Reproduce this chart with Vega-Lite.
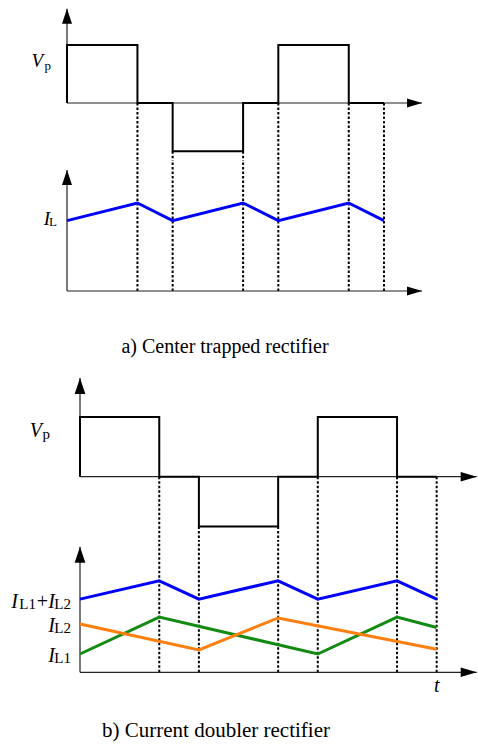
{
  "$schema": "https://vega.github.io/schema/vega-lite/v6.json",
  "padding": 0,
  "background": "white",
  "spacing": 0,
  "bounds": "flush",
  "config": {
    "view": {"stroke": null},
    "axis": {"disable": true},
    "legend": {"disable": true},
    "text": {"font": "Liberation Serif", "color": "black"},
    "title": {"font": "Liberation Serif", "fontWeight": "normal", "color": "black"},
    "style": {"group-title": {"font": "Liberation Serif", "fontWeight": "normal"}}
  },
  "datasets": {
    "vp": [
      {"seq": 0, "t": 0, "v": 0}, {"seq": 1, "t": 0, "v": 1.2}, {"seq": 2, "t": 2, "v": 1.2},
      {"seq": 3, "t": 2, "v": 0}, {"seq": 4, "t": 3, "v": 0}, {"seq": 5, "t": 3, "v": -1},
      {"seq": 6, "t": 5, "v": -1}, {"seq": 7, "t": 5, "v": 0}, {"seq": 8, "t": 6, "v": 0},
      {"seq": 9, "t": 6, "v": 1.2}, {"seq": 10, "t": 8, "v": 1.2}, {"seq": 11, "t": 8, "v": 0},
      {"seq": 12, "t": 9, "v": 0}
    ],
    "switching": [
      {"t": 2, "v": 0}, {"t": 3, "v": -1}, {"t": 5, "v": -1},
      {"t": 6, "v": 0}, {"t": 8, "v": 0}, {"t": 9, "v": 0}
    ],
    "il_center": [
      {"t": 0, "v": 4}, {"t": 2, "v": 5}, {"t": 3, "v": 4}, {"t": 5, "v": 5},
      {"t": 6, "v": 4}, {"t": 8, "v": 5}, {"t": 9, "v": 4}
    ],
    "il_doubler": [
      {"series": "IL1+IL2", "t": 0, "v": 4}, {"series": "IL1+IL2", "t": 2, "v": 5},
      {"series": "IL1+IL2", "t": 3, "v": 4}, {"series": "IL1+IL2", "t": 5, "v": 5},
      {"series": "IL1+IL2", "t": 6, "v": 4}, {"series": "IL1+IL2", "t": 8, "v": 5},
      {"series": "IL1+IL2", "t": 9, "v": 4},
      {"series": "IL1", "t": 0, "v": 1.0}, {"series": "IL1", "t": 2, "v": 3.02},
      {"series": "IL1", "t": 6, "v": 1.0}, {"series": "IL1", "t": 8, "v": 3.02},
      {"series": "IL1", "t": 9, "v": 2.45},
      {"series": "IL2", "t": 0, "v": 2.64}, {"series": "IL2", "t": 3, "v": 1.22},
      {"series": "IL2", "t": 5, "v": 2.97}, {"series": "IL2", "t": 9, "v": 1.26}
    ],
    "doubler_labels": [
      {"t": 0, "v": 4, "main": "I", "sub": "L2"},
      {"t": 0, "v": 2.64, "main": "I", "sub": "L2"},
      {"t": 0, "v": 1.0, "main": "I", "sub": "L1"}
    ]
  },
  "vconcat": [
    {
      "width": 478,
      "height": 160,
      "layer": [
        {
          "data": {"name": "switching"},
          "mark": {"type": "rule", "strokeDash": [2.5, 2], "strokeWidth": 2, "color": "black"},
          "encoding": {
            "x": {"field": "t", "type": "quantitative", "scale": {"domain": [-1.9023, 11.6695], "nice": false, "zero": false}},
            "y": {"field": "v", "type": "quantitative", "scale": {"domain": [-1.1801, 2.1325], "nice": false, "zero": false}},
            "y2": {"datum": -1.1801}
          }
        },
        {
          "data": {"values": [{}]},
          "mark": {"type": "rule", "color": "#222", "strokeWidth": 1.2},
          "encoding": {
            "x": {"datum": 0, "scale": {"domain": [-1.9023, 11.6695], "nice": false, "zero": false}},
            "y": {"datum": 0, "scale": {"domain": [-1.1801, 2.1325], "nice": false, "zero": false}},
            "y2": {"datum": 1.95}
          }
        },
        {
          "data": {"values": [{}]},
          "mark": {"type": "rule", "color": "#222", "strokeWidth": 1.2},
          "encoding": {
            "x": {"datum": 0, "scale": {"domain": [-1.9023, 11.6695], "nice": false, "zero": false}},
            "x2": {"datum": 10.08},
            "y": {"datum": 0, "scale": {"domain": [-1.1801, 2.1325], "nice": false, "zero": false}}
          }
        },
        {
          "data": {"values": [{}]},
          "mark": {"type": "point", "shape": "M0,0L0.667,2L-0.667,2Z", "size": 225, "filled": true, "color": "black", "opacity": 1},
          "encoding": {
            "x": {"datum": 0, "scale": {"domain": [-1.9023, 11.6695], "nice": false, "zero": false}},
            "y": {"datum": 1.95, "scale": {"domain": [-1.1801, 2.1325], "nice": false, "zero": false}}
          }
        },
        {
          "data": {"values": [{}]},
          "mark": {"type": "point", "shape": "M0,0L-2,-0.6L-2,0.6Z", "size": 225, "filled": true, "color": "black", "opacity": 1},
          "encoding": {
            "x": {"datum": 10.08, "scale": {"domain": [-1.9023, 11.6695], "nice": false, "zero": false}},
            "y": {"datum": 0, "scale": {"domain": [-1.1801, 2.1325], "nice": false, "zero": false}}
          }
        },
        {
          "data": {"name": "vp"},
          "mark": {"type": "line", "color": "black", "strokeWidth": 2, "strokeJoin": "miter"},
          "encoding": {
            "x": {"field": "t", "type": "quantitative", "scale": {"domain": [-1.9023, 11.6695], "nice": false, "zero": false}},
            "y": {"field": "v", "type": "quantitative", "scale": {"domain": [-1.1801, 2.1325], "nice": false, "zero": false}},
            "order": {"field": "seq", "type": "quantitative"}
          }
        },
        {
          "data": {"values": [{"t": 0, "v": 0.75, "main": "V", "sub": "p"}]},
          "mark": {"type": "text", "align": "right", "baseline": "alphabetic", "dx": -24, "dy": 0, "fontSize": 19, "fontStyle": "italic"},
          "encoding": {
            "x": {"field": "t", "type": "quantitative", "scale": {"domain": [-1.9023, 11.6695], "nice": false, "zero": false}},
            "y": {"field": "v", "type": "quantitative", "scale": {"domain": [-1.1801, 2.1325], "nice": false, "zero": false}},
            "text": {"field": "main"}
          }
        },
        {
          "data": {"values": [{"t": 0, "v": 0.75, "main": "V", "sub": "p"}]},
          "mark": {"type": "text", "align": "right", "baseline": "alphabetic", "dx": -16, "dy": 3, "fontSize": 13},
          "encoding": {
            "x": {"field": "t", "type": "quantitative", "scale": {"domain": [-1.9023, 11.6695], "nice": false, "zero": false}},
            "y": {"field": "v", "type": "quantitative", "scale": {"domain": [-1.1801, 2.1325], "nice": false, "zero": false}},
            "text": {"field": "sub"}
          }
        }
      ]
    },
    {
      "width": 478,
      "height": 210,
      "title": {"text": "a) Center trapped rectifier", "orient": "bottom", "anchor": "middle", "frame": "group", "offset": -17, "dx": -14, "font": "Liberation Serif", "fontSize": 20, "fontWeight": "normal", "fontStyle": "normal", "color": "black", "baseline": "alphabetic"},
      "layer": [
        {
          "data": {"name": "switching"},
          "mark": {"type": "rule", "strokeDash": [2.5, 2], "strokeWidth": 2, "color": "black"},
          "encoding": {
            "x": {"field": "t", "type": "quantitative", "scale": {"domain": [-1.9023, 11.6695], "nice": false, "zero": false}},
            "y": {"datum": 0, "scale": {"domain": [-4.4886, 7.4432], "nice": false, "zero": false}},
            "y2": {"datum": 7.4432}
          }
        },
        {
          "data": {"values": [{}]},
          "mark": {"type": "rule", "color": "#222", "strokeWidth": 1.2},
          "encoding": {
            "x": {"datum": 0, "scale": {"domain": [-1.9023, 11.6695], "nice": false, "zero": false}},
            "y": {"datum": 0, "scale": {"domain": [-4.4886, 7.4432], "nice": false, "zero": false}},
            "y2": {"datum": 6.87}
          }
        },
        {
          "data": {"values": [{}]},
          "mark": {"type": "rule", "color": "#222", "strokeWidth": 1.2},
          "encoding": {
            "x": {"datum": 0, "scale": {"domain": [-1.9023, 11.6695], "nice": false, "zero": false}},
            "x2": {"datum": 10.08},
            "y": {"datum": 0, "scale": {"domain": [-4.4886, 7.4432], "nice": false, "zero": false}}
          }
        },
        {
          "data": {"values": [{}]},
          "mark": {"type": "point", "shape": "M0,0L0.667,2L-0.667,2Z", "size": 225, "filled": true, "color": "black", "opacity": 1},
          "encoding": {
            "x": {"datum": 0, "scale": {"domain": [-1.9023, 11.6695], "nice": false, "zero": false}},
            "y": {"datum": 6.87, "scale": {"domain": [-4.4886, 7.4432], "nice": false, "zero": false}}
          }
        },
        {
          "data": {"values": [{}]},
          "mark": {"type": "point", "shape": "M0,0L-2,-0.6L-2,0.6Z", "size": 225, "filled": true, "color": "black", "opacity": 1},
          "encoding": {
            "x": {"datum": 10.08, "scale": {"domain": [-1.9023, 11.6695], "nice": false, "zero": false}},
            "y": {"datum": 0, "scale": {"domain": [-4.4886, 7.4432], "nice": false, "zero": false}}
          }
        },
        {
          "data": {"name": "il_center"},
          "mark": {"type": "line", "color": "#0000ff", "strokeWidth": 3},
          "encoding": {
            "x": {"field": "t", "type": "quantitative", "scale": {"domain": [-1.9023, 11.6695], "nice": false, "zero": false}},
            "y": {"field": "v", "type": "quantitative", "scale": {"domain": [-4.4886, 7.4432], "nice": false, "zero": false}}
          }
        },
        {
          "data": {"values": [{"t": 0, "v": 4, "main": "I", "sub": "L"}]},
          "mark": {"type": "text", "align": "right", "baseline": "alphabetic", "dx": -17, "dy": 4, "fontSize": 19, "fontStyle": "italic"},
          "encoding": {
            "x": {"field": "t", "type": "quantitative", "scale": {"domain": [-1.9023, 11.6695], "nice": false, "zero": false}},
            "y": {"field": "v", "type": "quantitative", "scale": {"domain": [-4.4886, 7.4432], "nice": false, "zero": false}},
            "text": {"field": "main"}
          }
        },
        {
          "data": {"values": [{"t": 0, "v": 4, "main": "I", "sub": "L"}]},
          "mark": {"type": "text", "align": "right", "baseline": "alphabetic", "dx": -10, "dy": 5, "fontSize": 13},
          "encoding": {
            "x": {"field": "t", "type": "quantitative", "scale": {"domain": [-1.9023, 11.6695], "nice": false, "zero": false}},
            "y": {"field": "v", "type": "quantitative", "scale": {"domain": [-4.4886, 7.4432], "nice": false, "zero": false}},
            "text": {"field": "sub"}
          }
        }
      ]
    },
    {
      "width": 478,
      "height": 170,
      "layer": [
        {
          "data": {"name": "switching"},
          "mark": {"type": "rule", "strokeDash": [2.5, 2], "strokeWidth": 2, "color": "black"},
          "encoding": {
            "x": {"field": "t", "type": "quantitative", "scale": {"domain": [-2.0187, 10.0429], "nice": false, "zero": false}},
            "y": {"field": "v", "type": "quantitative", "scale": {"domain": [-1.2711, 2.1426], "nice": false, "zero": false}},
            "y2": {"datum": -1.2711}
          }
        },
        {
          "data": {"values": [{}]},
          "mark": {"type": "rule", "color": "#222", "strokeWidth": 1.2},
          "encoding": {
            "x": {"datum": 0, "scale": {"domain": [-2.0187, 10.0429], "nice": false, "zero": false}},
            "y": {"datum": 0, "scale": {"domain": [-1.2711, 2.1426], "nice": false, "zero": false}},
            "y2": {"datum": 1.98}
          }
        },
        {
          "data": {"values": [{}]},
          "mark": {"type": "rule", "color": "#222", "strokeWidth": 1.2},
          "encoding": {
            "x": {"datum": 0, "scale": {"domain": [-2.0187, 10.0429], "nice": false, "zero": false}},
            "x2": {"datum": 10.01},
            "y": {"datum": 0, "scale": {"domain": [-1.2711, 2.1426], "nice": false, "zero": false}}
          }
        },
        {
          "data": {"values": [{}]},
          "mark": {"type": "point", "shape": "M0,0L0.667,2L-0.667,2Z", "size": 256, "filled": true, "color": "black", "opacity": 1},
          "encoding": {
            "x": {"datum": 0, "scale": {"domain": [-2.0187, 10.0429], "nice": false, "zero": false}},
            "y": {"datum": 1.98, "scale": {"domain": [-1.2711, 2.1426], "nice": false, "zero": false}}
          }
        },
        {
          "data": {"values": [{}]},
          "mark": {"type": "point", "shape": "M0,0L-2,-0.6L-2,0.6Z", "size": 256, "filled": true, "color": "black", "opacity": 1},
          "encoding": {
            "x": {"datum": 10.01, "scale": {"domain": [-2.0187, 10.0429], "nice": false, "zero": false}},
            "y": {"datum": 0, "scale": {"domain": [-1.2711, 2.1426], "nice": false, "zero": false}}
          }
        },
        {
          "data": {"name": "vp"},
          "mark": {"type": "line", "color": "black", "strokeWidth": 2, "strokeJoin": "miter"},
          "encoding": {
            "x": {"field": "t", "type": "quantitative", "scale": {"domain": [-2.0187, 10.0429], "nice": false, "zero": false}},
            "y": {"field": "v", "type": "quantitative", "scale": {"domain": [-1.2711, 2.1426], "nice": false, "zero": false}},
            "order": {"field": "seq", "type": "quantitative"}
          }
        },
        {
          "data": {"values": [{"t": 0, "v": 0.8, "main": "V", "sub": "p"}]},
          "mark": {"type": "text", "align": "right", "baseline": "alphabetic", "dx": -38, "dy": 0, "fontSize": 20, "fontStyle": "italic"},
          "encoding": {
            "x": {"field": "t", "type": "quantitative", "scale": {"domain": [-2.0187, 10.0429], "nice": false, "zero": false}},
            "y": {"field": "v", "type": "quantitative", "scale": {"domain": [-1.2711, 2.1426], "nice": false, "zero": false}},
            "text": {"field": "main"}
          }
        },
        {
          "data": {"values": [{"t": 0, "v": 0.8, "main": "V", "sub": "p"}]},
          "mark": {"type": "text", "align": "right", "baseline": "alphabetic", "dx": -30, "dy": 2, "fontSize": 15},
          "encoding": {
            "x": {"field": "t", "type": "quantitative", "scale": {"domain": [-2.0187, 10.0429], "nice": false, "zero": false}},
            "y": {"field": "v", "type": "quantitative", "scale": {"domain": [-1.2711, 2.1426], "nice": false, "zero": false}},
            "text": {"field": "sub"}
          }
        }
      ]
    },
    {
      "width": 478,
      "height": 207,
      "title": {"text": "b) Current doubler rectifier", "orient": "bottom", "anchor": "middle", "frame": "group", "offset": -10, "dx": -23, "font": "Liberation Serif", "fontSize": 21, "fontWeight": "normal", "fontStyle": "normal", "color": "black", "baseline": "alphabetic"},
      "layer": [
        {
          "data": {"name": "switching"},
          "mark": {"type": "rule", "strokeDash": [2.5, 2], "strokeWidth": 2, "color": "black"},
          "encoding": {
            "x": {"field": "t", "type": "quantitative", "scale": {"domain": [-2.0187, 10.0429], "nice": false, "zero": false}},
            "y": {"datum": 0, "scale": {"domain": [-4.082, 7.2295], "nice": false, "zero": false}},
            "y2": {"datum": 7.2295}
          }
        },
        {
          "data": {"values": [{}]},
          "mark": {"type": "rule", "color": "#222", "strokeWidth": 1.2},
          "encoding": {
            "x": {"datum": 0, "scale": {"domain": [-2.0187, 10.0429], "nice": false, "zero": false}},
            "y": {"datum": 0, "scale": {"domain": [-4.082, 7.2295], "nice": false, "zero": false}},
            "y2": {"datum": 6.86}
          }
        },
        {
          "data": {"values": [{}]},
          "mark": {"type": "rule", "color": "#222", "strokeWidth": 1.2},
          "encoding": {
            "x": {"datum": 0, "scale": {"domain": [-2.0187, 10.0429], "nice": false, "zero": false}},
            "x2": {"datum": 10.01},
            "y": {"datum": 0, "scale": {"domain": [-4.082, 7.2295], "nice": false, "zero": false}}
          }
        },
        {
          "data": {"values": [{}]},
          "mark": {"type": "point", "shape": "M0,0L0.667,2L-0.667,2Z", "size": 256, "filled": true, "color": "black", "opacity": 1},
          "encoding": {
            "x": {"datum": 0, "scale": {"domain": [-2.0187, 10.0429], "nice": false, "zero": false}},
            "y": {"datum": 6.86, "scale": {"domain": [-4.082, 7.2295], "nice": false, "zero": false}}
          }
        },
        {
          "data": {"values": [{}]},
          "mark": {"type": "point", "shape": "M0,0L-2,-0.6L-2,0.6Z", "size": 256, "filled": true, "color": "black", "opacity": 1},
          "encoding": {
            "x": {"datum": 10.01, "scale": {"domain": [-2.0187, 10.0429], "nice": false, "zero": false}},
            "y": {"datum": 0, "scale": {"domain": [-4.082, 7.2295], "nice": false, "zero": false}}
          }
        },
        {
          "data": {"name": "il_doubler"},
          "mark": {"type": "line", "strokeWidth": 3},
          "encoding": {
            "x": {"field": "t", "type": "quantitative", "scale": {"domain": [-2.0187, 10.0429], "nice": false, "zero": false}},
            "y": {"field": "v", "type": "quantitative", "scale": {"domain": [-4.082, 7.2295], "nice": false, "zero": false}},
            "color": {"field": "series", "type": "nominal", "scale": {"domain": ["IL1+IL2", "IL2", "IL1"], "range": ["#0000ff", "#ff7f0e", "#138a13"]}, "legend": null}
          }
        },
        {
          "data": {"name": "doubler_labels"},
          "mark": {"type": "text", "align": "right", "baseline": "alphabetic", "dx": -25, "dy": 8.5, "fontSize": 20, "fontStyle": "italic"},
          "encoding": {
            "x": {"field": "t", "type": "quantitative", "scale": {"domain": [-2.0187, 10.0429], "nice": false, "zero": false}},
            "y": {"field": "v", "type": "quantitative", "scale": {"domain": [-4.082, 7.2295], "nice": false, "zero": false}},
            "text": {"field": "main"}
          }
        },
        {
          "data": {"name": "doubler_labels"},
          "mark": {"type": "text", "align": "right", "baseline": "alphabetic", "dx": -9, "dy": 9.5, "fontSize": 15},
          "encoding": {
            "x": {"field": "t", "type": "quantitative", "scale": {"domain": [-2.0187, 10.0429], "nice": false, "zero": false}},
            "y": {"field": "v", "type": "quantitative", "scale": {"domain": [-4.082, 7.2295], "nice": false, "zero": false}},
            "text": {"field": "sub"}
          }
        },
        {
          "data": {"values": [{"t": 0, "v": 4, "plus": "+", "main": "I", "sub": "L1"}]},
          "mark": {"type": "text", "align": "right", "baseline": "alphabetic", "dx": -32, "dy": 8.5, "fontSize": 20},
          "encoding": {
            "x": {"field": "t", "type": "quantitative", "scale": {"domain": [-2.0187, 10.0429], "nice": false, "zero": false}},
            "y": {"field": "v", "type": "quantitative", "scale": {"domain": [-4.082, 7.2295], "nice": false, "zero": false}},
            "text": {"field": "plus"}
          }
        },
        {
          "data": {"values": [{"t": 0, "v": 4, "plus": "+", "main": "I", "sub": "L1"}]},
          "mark": {"type": "text", "align": "right", "baseline": "alphabetic", "dx": -44, "dy": 9.5, "fontSize": 15},
          "encoding": {
            "x": {"field": "t", "type": "quantitative", "scale": {"domain": [-2.0187, 10.0429], "nice": false, "zero": false}},
            "y": {"field": "v", "type": "quantitative", "scale": {"domain": [-4.082, 7.2295], "nice": false, "zero": false}},
            "text": {"field": "sub"}
          }
        },
        {
          "data": {"values": [{"t": 0, "v": 4, "plus": "+", "main": "I", "sub": "L1"}]},
          "mark": {"type": "text", "align": "right", "baseline": "alphabetic", "dx": -62, "dy": 8.5, "fontSize": 20, "fontStyle": "italic"},
          "encoding": {
            "x": {"field": "t", "type": "quantitative", "scale": {"domain": [-2.0187, 10.0429], "nice": false, "zero": false}},
            "y": {"field": "v", "type": "quantitative", "scale": {"domain": [-4.082, 7.2295], "nice": false, "zero": false}},
            "text": {"field": "main"}
          }
        },
        {
          "data": {"values": [{"t": 9, "v": 0, "name": "t"}]},
          "mark": {"type": "text", "align": "center", "baseline": "alphabetic", "dy": 20, "fontSize": 20, "fontStyle": "italic"},
          "encoding": {
            "x": {"field": "t", "type": "quantitative", "scale": {"domain": [-2.0187, 10.0429], "nice": false, "zero": false}},
            "y": {"field": "v", "type": "quantitative", "scale": {"domain": [-4.082, 7.2295], "nice": false, "zero": false}},
            "text": {"field": "name"}
          }
        }
      ]
    }
  ]
}
